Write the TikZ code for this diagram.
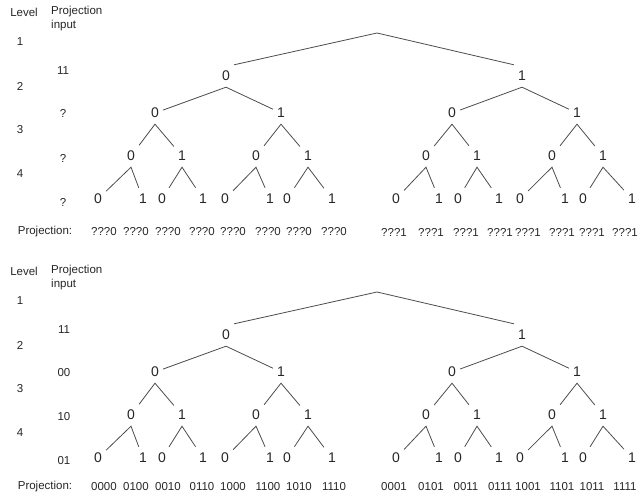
\documentclass[tikz,border=0pt]{standalone}
\usepackage{fontspec}
\setmainfont{Liberation Sans}

\tikzset{
  lbl/.style={font=\fontsize{11.5}{13}\selectfont, text=black!85, inner sep=1pt},
  bit/.style={font=\fontsize{14}{16}\selectfont, text=black!85, inner xsep=4pt, minimum height=22pt},
  branch/.style={line width=0.8pt, color=black!70}
}

\begin{document}
\begin{tikzpicture}[x=1pt, y=-1pt]
		%%%%% START %%%%%
		\useasboundingbox (0,0) rectangle (639,495);
		
		% both trees have the same shape, the lower one sits 259 lower
		\foreach \t/\dy in {a/0, b/259}{
		\begin{scope}[yshift=-\dy pt]
		\node[lbl] (\t-level) at (24,12) {Level};
		\node[lbl, anchor=west] (\t-projin) at (50,12) {Projection};
		\node[lbl, anchor=west] (\t-input) at (50,26) {input};
		\foreach \k/\yy in {1/42, 2/86, 3/130, 4/174}
			\node[lbl] (\t-lev\k) at (20,\yy) {\k};
		
		\coordinate (\t-r) at (377,33);
		\foreach \n/\x/\b in {0/226/0, 1/522/1}
			\node[bit] (\t-\n) at (\x,76) {\b};
		\foreach \n/\x/\b in {00/155/0, 01/281/1, 10/452/0, 11/577/1}
			\node[bit] (\t-\n) at (\x,113) {\b};
		\foreach \n/\x/\b in {000/131/0, 001/182/1, 010/256/0, 011/308/1,
				100/426/0, 101/477/1, 110/552/0, 111/603/1}
			\node[bit] (\t-\n) at (\x,156) {\b};
		\foreach \n/\x/\b in {0000/98/0, 0001/143/1, 0010/162/0, 0011/203/1,
				0100/225/0, 0101/270/1, 0110/287/0, 0111/332/1,
				1000/396/0, 1001/439/1, 1010/458/0, 1011/499/1,
				1100/520/0, 1101/565/1, 1110/583/0, 1111/632/1}
			\node[bit] (\t-\n) at (\x,199) {\b};
		
		\draw[branch] (\t-0.north east) -- (\t-r) -- (\t-1.north west);
		\foreach \p in {0,1,00,01,10,11,000,001,010,011,100,101,110,111}
			\draw[branch] (\t-\p0) -- (\t-\p.south) -- (\t-\p1);
		\end{scope}
		}
		
		% projection inputs
		\foreach \i/\yy/\s in {1/71/11, 2/113/?, 3/158/?, 4/202/?}
			\node[lbl] (a-in\i) at (63,\yy) {\s};
		\foreach \i/\yy/\s in {1/330/11, 2/373/00, 3/417/10, 4/461/01}
			\node[lbl] (b-in\i) at (64,\yy) {\s};
		
		% projections
		\node[lbl] (a-projlbl) at (45,232) {Projection:};
		\node[lbl] (b-projlbl) at (45,487) {Projection:};
		\foreach \i/\x/\s in {1/104/???0, 2/136/???0, 3/168/???0, 4/202/???0,
				5/233/???0, 6/268/???0, 7/299/???0, 8/334/???0,
				9/394/???1, 10/431/???1, 11/466/???1, 12/500/???1,
				13/528/???1, 14/562/???1, 15/592/???1, 16/625/???1}
			\node[lbl] (a-p\i) at (\x,232) {\s};
		\foreach \i/\x/\s in {1/104/0000, 2/136/0100, 3/168/0010, 4/202/0110,
				5/233/1000, 6/268/1100, 7/299/1010, 8/334/1110,
				9/394/0001, 10/431/0101, 11/466/0011, 12/500/0111,
				13/528/1001, 14/562/1101, 15/592/1011, 16/625/1111}
			\node[lbl] (b-p\i) at (\x,487) {\s};
		
		%%%%% END %%%%%
\end{tikzpicture}
\end{document}
